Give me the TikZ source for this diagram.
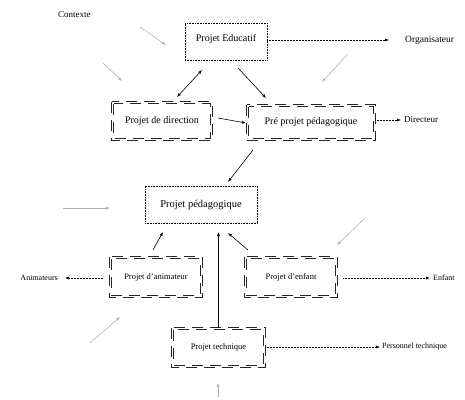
\documentclass[tikz,border=0pt]{standalone}
\usepackage{fontspec}
\setmainfont{Liberation Serif}
\usetikzlibrary{arrows.meta}
\newcommand\dblrect[1]{%
  \draw[dsh] (#1.north west) rectangle (#1.south east);
  \draw[dsh] ([xshift=2pt,yshift=-2pt]#1.north west) rectangle ([xshift=-2pt,yshift=2pt]#1.south east);}
\begin{document}
\begin{tikzpicture}[x=1pt,y=-1pt,
  dotbox/.style={draw, densely dotted, line width=0.6pt, inner sep=0pt, font=\fontsize{10}{12}\selectfont},
  dblbox/.style={inner sep=0pt},
  dsh/.style={line width=0.9pt, dash pattern=on 11pt off 7pt, black!85},
  lbl/.style={inner sep=0pt, font=\fontsize{9}{11}\selectfont},
  blk/.style={-{Latex[length=4pt,width=3pt]}, line width=0.6pt},
  gry/.style={-{Latex[length=4pt,width=3pt]}, draw=black!30, line width=0.6pt},
  dotarr/.style={-{Latex[length=4pt,width=3pt]}, densely dotted, line width=0.5pt}]
\useasboundingbox (0,0) rectangle (465,399);

% boxes
\node[dotbox, minimum width=82pt, minimum height=37pt, text depth=8pt] (pe) at (226,41.5) {Projet Educatif};
\node[dblbox, minimum width=100pt, minimum height=38pt, font=\fontsize{10}{12}\selectfont] (pd) at (162,121) {Projet de direction};
\node[dblbox, minimum width=128pt, minimum height=35pt, font=\fontsize{10}{12}\selectfont] (ppp) at (311,122.5) {Pré projet pédagogique};
\node[dotbox, minimum width=112pt, minimum height=37pt, font=\fontsize{10.5}{12}\selectfont] (ped) at (201,204.5) {Projet pédagogique};
\node[dblbox, minimum width=92pt, minimum height=40pt, font=\fontsize{8.5}{10}\selectfont] (pa) at (156,277) {Projet d'animateur};
\node[dblbox, minimum width=92pt, minimum height=40pt, font=\fontsize{8.5}{10}\selectfont] (pen) at (291,277) {Projet d'enfant};
\node[dblbox, minimum width=93pt, minimum height=39pt, font=\fontsize{8.5}{10}\selectfont] (pt) at (218.5,347.5) {Projet technique};
\dblrect{pd}
\dblrect{ppp}
\dblrect{pa}
\dblrect{pen}
\dblrect{pt}

% labels
\node[lbl, anchor=west] (ctx) at (58,15) {Contexte};
\node[lbl, anchor=west, font=\fontsize{9.5}{11}\selectfont] (org) at (405,40) {Organisateur};
\node[lbl, anchor=west] (dir) at (404,120) {Directeur};
\node[lbl, anchor=east, font=\fontsize{8}{10}\selectfont] (ani) at (58,278) {Animateurs};
\node[lbl, anchor=west, font=\fontsize{8}{10}\selectfont] (enf) at (433,278) {Enfant};
\node[lbl, anchor=west, font=\fontsize{8}{10}\selectfont] (per) at (382,347) {Personnel technique};

% dotted arrows to actors
\draw[dotarr] (pe.east |- org.west) -- ([xshift=-16pt]org.west);
\draw[dotarr] (ppp.east |- dir.west) -- ([xshift=-3pt]dir.west);
\draw[dotarr] ([xshift=-7pt]pa.west |- ani.east) -- ([xshift=7pt]ani.east);
\draw[dotarr] ([xshift=6pt]pen.east |- enf.west) -- ([xshift=-3pt]enf.west);
\draw[dotarr] (pt.east |- per.west) -- ([xshift=-2pt]per.west);

% black arrows
\coordinate (a1) at (177,97);
\coordinate (a2) at (202,70);
\draw[{Latex[length=4pt,width=3pt]}-{Latex[length=4pt,width=3pt]}, line width=0.6pt] (a1) -- (a2);
\coordinate (b1) at (238,68);
\coordinate (b2) at (266,98);
\draw[blk] (b1) -- (b2);
\coordinate (c1) at (218,118);
\coordinate (c2) at (246,123);
\draw[blk] (c1) -- (c2);
\coordinate (d1) at (253,150);
\coordinate (d2) at (228,182);
\draw[blk] (d1) -- (d2);
\coordinate (e1) at (153,250);
\coordinate (e2) at (163,232);
\draw[blk] (e1) -- (e2);
\coordinate (f1) at (248,250);
\coordinate (f2) at (228,233);
\draw[blk] (f1) -- (f2);
\draw[blk] (pt.north) -- (218.5,232);

% grey context arrows
\draw[gry] (140,27) -- (166,45);
\draw[gry] (103,63) -- (122,81);
\draw[gry] (347,55) -- (322,82);
\draw[gry] (63,208) -- (110,208);
\draw[gry] (365,218) -- (337,245);
\draw[gry] (90,343) -- (120,317);
\draw[gry] (218,397) -- (218,383);
\end{tikzpicture}
\end{document}
